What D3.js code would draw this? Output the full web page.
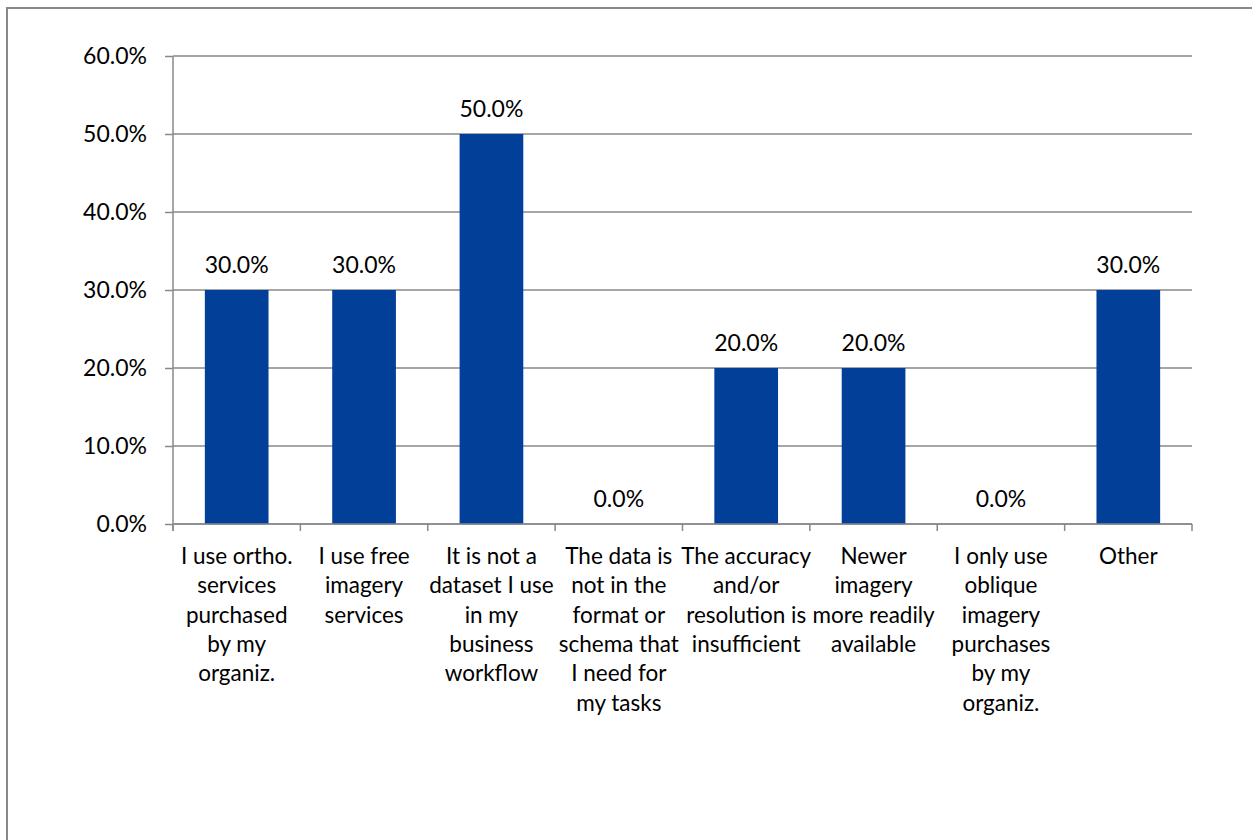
<!DOCTYPE html>
<html><head><meta charset="utf-8">
<script src="https://cdn.jsdelivr.net/npm/d3@7"></script>
<style>
html,body{margin:0;padding:0;background:#fff;}
svg{display:block;}
text{font-family:Lato,"Open Sans",sans-serif;fill:#000;}
</style></head>
<body>
<svg id="chart" width="1252" height="840"></svg>
<script>
const categories = [
  ["I use ortho.","services","purchased","by my","organiz."],
  ["I use free","imagery","services"],
  ["It is not a","dataset I use","in my","business","workflow"],
  ["The data is","not in the","format or","schema that","I need for","my tasks"],
  ["The accuracy","and/or","resolution is","insufficient"],
  ["Newer","imagery","more readily","available"],
  ["I only use","oblique","imagery","purchases","by my","organiz."],
  ["Other"]
];
const values = [30.0, 30.0, 50.0, 0.0, 20.0, 20.0, 0.0, 30.0];
const yTicks = [0, 10, 20, 30, 40, 50, 60];

(function() {
const svg = d3.select("#chart");
const pLeft = 173, pRight = 1192, pTop = 56, pBottom = 524;
const grey = "#888888";
const fs = 23;

// outer chart border
svg.append("rect").attr("x", 7).attr("y", 8).attr("width", 1300).attr("height", 900)
  .attr("fill", "none").attr("stroke", grey).attr("stroke-width", 2);

const idx = d3.range(categories.length);
const x = d3.scaleBand().domain(idx).range([pLeft, pRight]).paddingInner(0).paddingOuter(0);
const y = d3.scaleLinear().domain([0, 60]).range([pBottom, pTop]);

// y ticks
const yAxis = d3.axisLeft(y).tickValues(yTicks).tickFormat(d => d.toFixed(1) + "%")
  .tickSize(8).tickPadding(18);
const gy = svg.append("g").attr("transform", `translate(${pLeft},0)`).call(yAxis);
gy.select(".domain").remove();
gy.selectAll(".tick line").attr("stroke", grey).attr("stroke-width", 1.5);
gy.selectAll(".tick text").attr("font-size", fs).attr("font-family", "Lato").attr("fill", "#000");

// gridlines
svg.append("g").selectAll("line").data(yTicks).join("line")
  .attr("x1", pLeft).attr("x2", pRight).attr("y1", d => y(d)).attr("y2", d => y(d))
  .attr("stroke", grey).attr("stroke-width", 1.5);

// y axis line
svg.append("line").attr("x1", pLeft).attr("x2", pLeft).attr("y1", pTop).attr("y2", pBottom + 7)
  .attr("stroke", grey).attr("stroke-width", 1.5);

// bars
const bw = x.bandwidth() * 0.5;
svg.append("g").selectAll("rect").data(values).join("rect")
  .attr("x", (d, i) => x(i) + (x.bandwidth() - bw) / 2)
  .attr("width", bw)
  .attr("y", d => y(d))
  .attr("height", d => pBottom - y(d))
  .attr("fill", "#023f98");

// x-axis baseline
svg.append("line").attr("x1", pLeft).attr("x2", pRight).attr("y1", pBottom).attr("y2", pBottom)
  .attr("stroke", grey).attr("stroke-width", 1.5);

// x ticks at category boundaries
const bounds = idx.map(i => x(i)).concat([pRight]);
svg.append("g").selectAll("line").data(bounds).join("line")
  .attr("x1", d => d).attr("x2", d => d).attr("y1", pBottom).attr("y2", pBottom + 7)
  .attr("stroke", grey).attr("stroke-width", 1.5);

// value labels
svg.append("g").selectAll("text").data(values).join("text")
  .attr("x", (d, i) => x(i) + x.bandwidth() / 2)
  .attr("y", d => y(d) - 17)
  .attr("text-anchor", "middle").attr("font-size", fs)
  .text(d => d.toFixed(1) + "%");

// category labels
const cl = svg.append("g").selectAll("text").data(categories).join("text")
  .attr("text-anchor", "middle").attr("font-size", fs - 0.5);
cl.each(function(lines, i) {
  const t = d3.select(this);
  lines.forEach((ln, j) => {
    t.append("tspan").attr("x", x(i) + x.bandwidth() / 2).attr("y", 564 + j * 29.3).text(ln);
  });
});
})();
</script>
</body></html>
